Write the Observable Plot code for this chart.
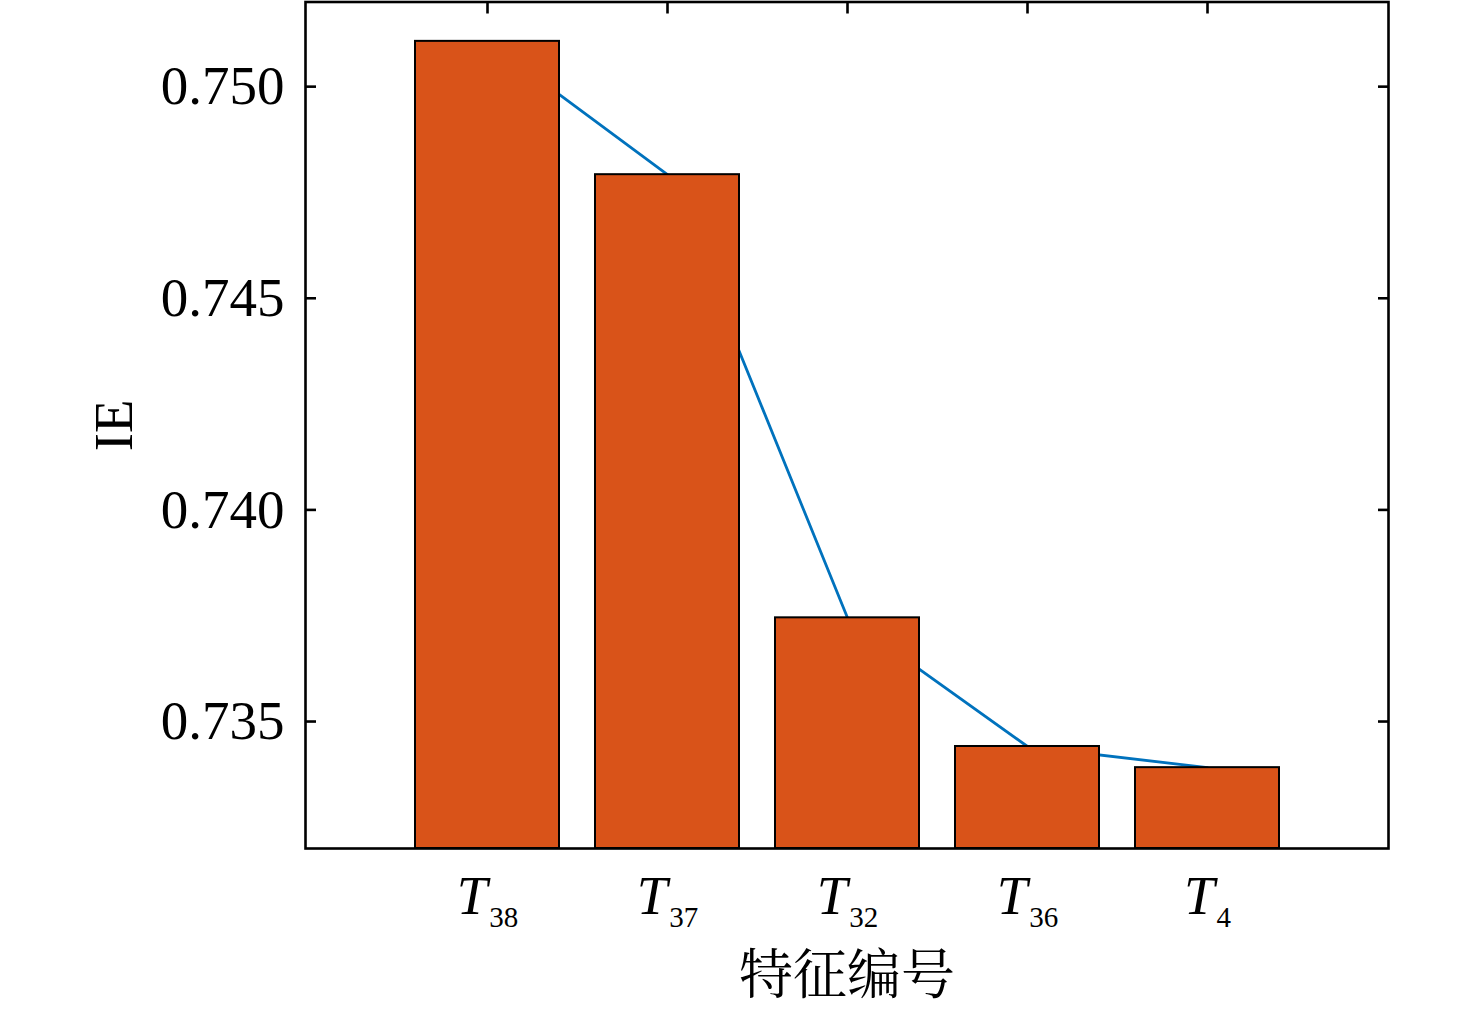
<!DOCTYPE html>
<html>
<head>
<meta charset="utf-8">
<script src="https://cdn.jsdelivr.net/npm/d3@7"></script>
<script src="https://cdn.jsdelivr.net/npm/@observablehq/plot@0.6"></script>
<style>
  html, body { margin: 0; padding: 0; background: white; }
  svg { display: block; }
</style>
</head>
<body>
<div id="chart"></div>
<script>
const categories = ["T38", "T37", "T32", "T36", "T4"];
const subscripts = ["38", "37", "32", "36", "4"];
const ieValues = [0.75107, 0.74792, 0.73745, 0.73441, 0.73391];
const yTicks = [0.735, 0.740, 0.745, 0.750];
const yDomain = [0.732, 0.752];
const yLabel = "IE";
const xLabel = "特征编号";

const data = categories.map((c, i) => ({feature: c, sub: subscripts[i], ie: ieValues[i]}));
const serif = "'Times New Roman', 'Liberation Serif', 'DejaVu Serif', serif";
const cjk = "'Noto Serif CJK SC', 'Noto Sans CJK SC', sans-serif";

const chart = Plot.plot({
  width: 1476,
  height: 1011,
  marginLeft: 305,
  marginRight: 88,
  marginTop: 1.5,
  marginBottom: 163,
  x: {type: "band", domain: categories, paddingInner: 0.2, paddingOuter: 0.6},
  y: {domain: yDomain},
  style: {fontFamily: serif, fontSize: "54px", background: "white", color: "black", overflow: "visible"},
  marks: [
    Plot.lineY(data, {x: "feature", y: "ie", stroke: "#0072BD", strokeWidth: 2.8}),
    Plot.barY(data, {x: "feature", y1: yDomain[0], y2: "ie", fill: "#D95319", stroke: "black", strokeWidth: 2}),
    Plot.frame({stroke: "black", strokeWidth: 2.6}),
    Plot.axisY({anchor: "left", ticks: yTicks, tickSize: -11, tickPadding: 32, tickFormat: d3.format(".3f"), label: null, strokeWidth: 2.6, fontSize: 55}),
    Plot.axisY({anchor: "right", ticks: yTicks, tickSize: -11, tickFormat: () => "", label: null, strokeWidth: 2.6}),
    Plot.axisX({anchor: "top", tickSize: -11, tickFormat: () => "", label: null, strokeWidth: 2.6}),
    Plot.axisX({anchor: "bottom", tickSize: 0, tickPadding: 26, label: null, fontSize: 55}),
    Plot.text([yLabel], {text: d => d, frameAnchor: "left", textAnchor: "middle", dx: -191, rotate: -90, fontSize: 55, fontFamily: serif, fill: "black"}),
    Plot.text([xLabel], {text: d => d, frameAnchor: "bottom", dy: 145, fontSize: 54, fontFamily: cjk, fill: "black"})
  ]
});

document.getElementById("chart").appendChild(chart);

// Render tick labels as italic T with subscript number
d3.select(chart).selectAll("text").each(function () {
  const t = this.textContent;
  const i = categories.indexOf(t);
  if (i < 0) return;
  const el = d3.select(this);
  el.text(null);
  el.append("tspan").attr("font-style", "italic").text("T");
  el.append("tspan").attr("font-size", 29).attr("dy", 13).attr("dx", 2).text(subscripts[i]);
});
</script>
</body>
</html>
